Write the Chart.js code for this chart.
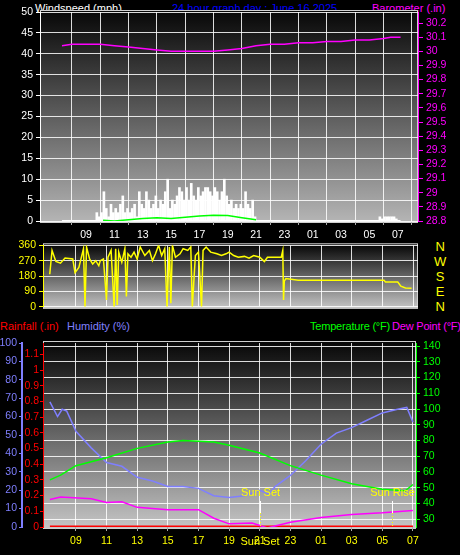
<!DOCTYPE html>
<html>
<head>
<meta charset="utf-8">
<script src="https://cdn.jsdelivr.net/npm/chart.js@4.4.1/dist/chart.umd.min.js"></script>
<style>
  body { margin: 0; background: #000; width: 460px; height: 555px; overflow: hidden; position: relative; font-family: "Liberation Sans", Arial, sans-serif; }
  canvas { position: absolute; left: 0; }
  .t { position: absolute; font-size: 11px; white-space: nowrap; line-height: 12px; }
</style>
</head>
<body>
<div class="t" style="left:35px;top:2px;color:#fff">Windspeed (mph)</div>
<div class="t" style="left:172px;top:2px;color:#0000ff">24 hour graph day : June 16 2025</div>
<div class="t" style="left:372px;top:2px;color:#ff00ff">Barometer (.in)</div>
<div class="t" style="left:434px;top:239px;color:#ffff00;font-size:13px;line-height:15px;text-align:center">N<br>W<br>S<br>E<br>N</div>
<div class="t" style="left:0px;top:320px;color:#ff0000">Rainfall (.in)</div>
<div class="t" style="left:67px;top:320px;color:#8080ff">Humidity (%)</div>
<div class="t" style="left:310px;top:320px;color:#00ff00;letter-spacing:-0.2px">Temperature (°F)</div>
<div class="t" style="left:392px;top:320px;color:#ff00ff;letter-spacing:-0.2px">Dew Point (°F)</div>
<canvas id="top" width="460" height="245" style="top:0"></canvas>
<canvas id="mid" width="460" height="80" style="top:236px"></canvas>
<canvas id="bot" width="460" height="225" style="top:330px"></canvas>
<script>
// hours since midnight June 16 (24+ = next day)
const hourTicks = [9, 11, 13, 15, 17, 19, 21, 23, 25, 27, 29, 31];

const baroTimes = [7.3, 8, 9, 10, 11, 12, 13, 14, 15, 16, 17, 18, 19, 20, 21, 22, 23, 24, 25, 26, 27, 28, 29, 30, 30.5, 31.2];
const baroValues = [30.04, 30.05, 30.05, 30.05, 30.04, 30.03, 30.02, 30.01, 30.0, 30.0, 30.0, 30.0, 30.01, 30.02, 30.04, 30.05, 30.05, 30.06, 30.06, 30.07, 30.07, 30.08, 30.08, 30.09, 30.1, 30.1];

const gustTimes = [];
for (let i = 0; i < 68; i++) gustTimes.push(9.83 + i / 6);
const gustValues = [2, 1, 2, 7, 3, 1, 4, 2, 3, 2, 4, 6, 2, 3, 2, 3, 4, 1, 7, 4, 3, 7, 5, 3, 4, 6, 3, 5, 4, 7, 10, 3, 5, 4, 6, 8, 7, 5, 8, 5, 9, 6, 5, 8, 6, 7, 8, 8, 7, 6, 8, 7, 5, 7, 10, 6, 4, 5, 3, 4, 3, 4, 3, 7, 4, 3, 5, 1];
const gustMorningTimes = [29.67, 29.83, 30.0, 30.17, 30.33, 30.5, 30.67, 30.83];
const gustMorningValues = [1, 0.5, 1, 1, 1, 1, 1, 0.5];

const avgTimes = [10.2, 11, 12, 13, 14, 15, 16, 17, 18, 19, 20, 21];
const avgValues = [0.2, 0, 0.3, 0.6, 0.8, 0.6, 0.9, 1.2, 1.4, 1.3, 0.8, 0.3];

const dirPoints = [[7.3,190],[7.45,330],[7.7,265],[8.0,255],[8.3,285],[8.8,280],[8.95,200],[9.2,230],[9.5,340],[9.6,0],[9.7,350],[9.9,280],[10.1,250],[10.3,270],[10.5,240],[10.6,270],[10.8,280],[11.0,40],[11.1,290],[11.3,330],[11.5,0],[11.6,340],[11.7,10],[11.8,320],[12.0,260],[12.2,340],[12.3,60],[12.4,310],[12.6,290],[12.8,320],[13.0,280],[13.2,350],[13.5,300],[13.8,330],[14.0,270],[14.2,310],[14.4,360],[14.6,300],[14.8,340],[14.95,0],[15.1,350],[15.2,20],[15.3,360],[15.5,290],[15.8,310],[16.0,340],[16.3,330],[16.5,350],[16.6,0],[16.8,300],[17.0,320],[17.2,0],[17.3,330],[17.5,350],[17.8,320],[18.2,310],[18.5,300],[18.8,310],[19.0,320],[19.3,300],[19.6,290],[20.0,295],[20.3,285],[20.6,300],[21.0,290],[21.3,265],[21.5,290],[22.0,290],[22.4,290],[22.5,330],[22.55,40],[22.6,150],[22.7,165],[23.5,155],[24,155],[28,155],[29.1,155],[29.2,145],[30.0,145],[30.2,120],[30.5,110],[30.9,108]];

const humTimes = [7.3, 7.8, 8.1, 8.4, 9, 10, 11, 12, 13, 14, 15, 16, 17, 18, 19, 20, 21, 21.6, 22, 23, 24, 25, 26, 27, 28, 29, 30, 30.6, 31];
const humValues = [68, 60, 64, 63, 52, 43, 35, 33, 27, 25, 22, 22, 21, 17, 16, 17, 20, 18, 22, 28, 36, 45, 51, 54, 58, 62, 64, 65, 57];

const tempTimes = [7.3, 8, 9, 11, 13, 15, 16, 18, 19, 21, 23, 25, 27, 29, 30.5, 31];
const tempValues = [55, 58, 64, 69, 75, 79, 80, 79, 77, 72, 64, 58, 52.5, 49, 48, 52];

const dewTimes = [7.3, 8, 10, 11, 12, 13, 15, 17, 18, 19, 20.5, 21.5, 22, 23, 25, 27, 29, 31];
const dewValues = [42.5, 44, 43, 40.6, 41, 37.5, 36, 36, 30.6, 27, 27.5, 24.4, 25.6, 28, 31, 33, 34, 35.5];

const rainTimes = [7.3, 31];
const rainValues = [0, 0];

const sunSet = 21.0;
const sunRise = 29.65;

const font = { family: '"Liberation Sans", Arial, sans-serif', size: 10.5 };
const xy = (ts, vs) => ts.map((t, i) => ({ x: t, y: vs[i] }));
const hourLabel = v => String(v % 24).padStart(2, '0');

function fixW(w) { return s => { s.width = w; }; }
function fixH(h) { return s => { s.height = h; }; }
function setTicks(list) { return s => { s.ticks = list.map(v => ({ value: v })); }; }
function range(a, b, step) { const r = []; for (let v = a; v <= b + 1e-9; v += step) r.push(Math.round(v * 100) / 100); return r; }

const plotBg = {
  id: 'plotBg',
  beforeDraw(chart, args, opts) {
    const { ctx, chartArea: a } = chart;
    const g = ctx.createLinearGradient(0, a.top, 0, a.bottom);
    g.addColorStop(0, '#080808');
    g.addColorStop(1, opts.bottom || '#b8b8b8');
    ctx.save();
    ctx.fillStyle = g;
    ctx.fillRect(a.left, a.top - 2, a.right - a.left, a.bottom - a.top + 4);
    ctx.strokeStyle = '#cfcfcf';
    ctx.lineWidth = 1;
    ctx.strokeRect(a.left + 0.5, a.top - 1.5, a.right - a.left - 1, a.bottom - a.top + 3);
    ctx.restore();
  }
};

const sunMarks = {
  id: 'sunMarks',
  afterDatasetsDraw(chart) {
    const { ctx, chartArea: a, scales } = chart;
    ctx.save();
    ctx.font = '11px "Liberation Sans", Arial, sans-serif';
    ctx.textAlign = 'center';
    [[sunSet, 'Sun Set'], [sunRise, 'Sun Rise']].forEach(([t, label]) => {
      const x = Math.round(scales.x.getPixelForValue(t)) + 0.5;
      ctx.fillStyle = '#ffff00';
      ctx.fillText(label, x, a.bottom - 31);
      ctx.strokeStyle = '#ffffff';
      ctx.beginPath(); ctx.moveTo(x, a.bottom - 26); ctx.lineTo(x, a.bottom - 14); ctx.stroke();
      ctx.strokeStyle = '#ffff00';
      ctx.setLineDash([1, 2]);
      ctx.beginPath(); ctx.moveTo(x, a.bottom - 14); ctx.lineTo(x, a.bottom); ctx.stroke();
      ctx.setLineDash([]);
    });
    const xs = Math.round(scales.x.getPixelForValue(sunSet));
    ctx.fillText('Sun Set', xs, a.bottom + 18);
    ctx.restore();
  }
};

function xScale(min, max, h, color, show) {
  return {
    type: 'linear', min: min, max: max,
    afterBuildTicks: setTicks(hourTicks), afterFit: fixH(h),
    grid: { color: 'rgba(255,255,255,0.85)', borderDash: [1, 4], tickBorderDash: [], tickColor: '#aaa', tickLength: show ? 4 : 0 },
    border: { display: false },
    ticks: { display: show, autoSkip: false, color: color, font: font, maxRotation: 0, padding: 4, callback: hourLabel }
  };
}

const base = { responsive: false, animation: false, devicePixelRatio: 1, plugins: { legend: { display: false }, tooltip: { enabled: false } } };
const line = (data, color, axis, w) => ({ type: 'line', data: data, borderColor: color, borderWidth: w || 1.5, pointRadius: 0, tension: 0, yAxisID: axis });

// windspeed + barometer
new Chart(document.getElementById('top'), {
  type: 'bar',
  data: { datasets: [
    line(xy(avgTimes, avgValues), '#00ff00', 'y', 1.5),
    line(xy(baroTimes, baroValues), '#ff00ff', 'baro', 1.5),
    { type: 'bar', data: xy(gustTimes, gustValues), backgroundColor: '#ffffff', barThickness: 2, yAxisID: 'y' },
    { type: 'bar', data: xy(gustMorningTimes, gustMorningValues), backgroundColor: '#ffffff', barThickness: 2, yAxisID: 'y' },
    line(xy([7.3, 31.2], [0, 0]), '#ffffff', 'y', 2)
  ] },
  options: Object.assign({}, base, {
    layout: { padding: { top: 12 } },
    scales: {
      x: xScale(6.86, 31.32, 24, '#ffffff', true),
      y: { min: 0, max: 50, afterFit: fixW(40), afterBuildTicks: setTicks(range(0, 50, 5)),
        grid: { color: 'rgba(255,255,255,0.85)', borderDash: [1, 4], tickBorderDash: [], tickColor: '#fff', tickLength: 4 },
        border: { display: true, color: '#fff' }, ticks: { autoSkip: false, color: '#fff', font: font } },
      baro: { position: 'right', min: 28.8, max: 30.278, afterFit: fixW(42), afterBuildTicks: setTicks(range(28.8, 30.2, 0.1)),
        grid: { drawOnChartArea: false, tickColor: '#ff00ff', tickLength: 5 },
        border: { display: true, color: '#ff00ff' }, ticks: { autoSkip: false, color: '#ff00ff', font: font, callback: v => String(Math.round(v * 10) / 10) } }
    },
    plugins: Object.assign({}, base.plugins, { plotBg: { bottom: '#b4b4b4' } })
  }),
  plugins: [plotBg]
});

// wind direction
new Chart(document.getElementById('mid'), {
  type: 'line',
  data: { datasets: [ line(dirPoints.map(p => ({ x: p[0], y: p[1] })), '#ffff00', 'y', 1.5) ] },
  options: Object.assign({}, base, {
    layout: { padding: { top: 8, right: 42 } },
    scales: {
      x: xScale(6.86, 31.32, 8, '#ffff00', false),
      y: { min: 0, max: 360, afterFit: fixW(43), afterBuildTicks: setTicks([0, 90, 180, 270, 360]),
        grid: { color: 'rgba(255,255,255,0.85)', borderDash: [1, 4], tickBorderDash: [], tickColor: '#ffff00', tickLength: 4 },
        border: { display: true, color: '#ffff00' }, ticks: { autoSkip: false, color: '#ffff00', font: font } }
    },
    plugins: Object.assign({}, base.plugins, { plotBg: { bottom: '#c0c0c0' } })
  }),
  plugins: [plotBg]
});

// rain, humidity, temperature, dew point
new Chart(document.getElementById('bot'), {
  type: 'line',
  data: { datasets: [
    line(xy(tempTimes, tempValues), '#00ff00', 'temp', 1.5),
    line(xy(humTimes, humValues), '#7f7fff', 'hum', 1.5),
    line(xy(dewTimes, dewValues), '#ff00ff', 'temp', 1.5),
    line(xy(rainTimes, rainValues), '#ff0000', 'rain', 3)
  ] },
  options: Object.assign({}, base, {
    layout: { padding: { top: 13 } },
    scales: {
      x: xScale(6.85, 31.2, 28, '#ffff00', true),
      hum: { position: 'left', weight: 10, min: 0, max: 100, afterFit: fixW(22), afterBuildTicks: setTicks(range(0, 100, 10)),
        grid: { drawOnChartArea: false, tickColor: '#7f7fff', tickLength: 3 },
        border: { display: true, color: '#7f7fff', width: 2 }, ticks: { autoSkip: false, color: '#7f7fff', font: font, padding: 2 } },
      rain: { position: 'left', weight: 0, min: 0, max: 1.172, afterFit: fixW(21), afterBuildTicks: setTicks(range(0, 1.1, 0.1)),
        grid: { drawOnChartArea: false, tickColor: '#ff0000', tickLength: 3 },
        border: { display: true, color: '#ff0000' }, ticks: { autoSkip: false, color: '#ff0000', font: font, padding: 1, callback: v => String(Math.round(v * 10) / 10) } },
      temp: { position: 'right', min: 25, max: 142, afterFit: fixW(44), afterBuildTicks: setTicks(range(30, 140, 10)),
        grid: { color: 'rgba(255,255,255,0.85)', borderDash: [1, 4], tickBorderDash: [], tickColor: '#00ff00', tickLength: 4 },
        border: { display: true, color: '#00ff00' }, ticks: { autoSkip: false, color: '#00ff00', font: font } }
    },
    plugins: Object.assign({}, base.plugins, { plotBg: { bottom: '#c4c4c4' } })
  }),
  plugins: [plotBg, sunMarks]
});
</script>
</body>
</html>
